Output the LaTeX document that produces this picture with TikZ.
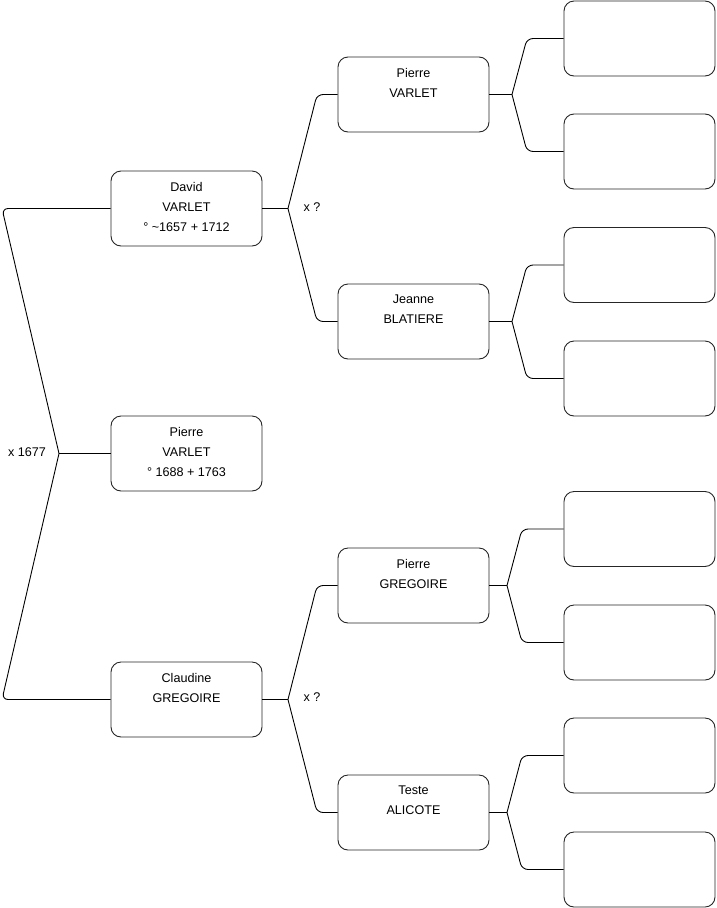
\documentclass[tikz,border=0pt]{standalone}
\usepackage{fontspec}
\setmainfont{Liberation Sans}
\newcommand\boxtxt[1]{\parbox[c][75pt][t]{151pt}{\centering\fontsize{12.6}{20}\selectfont\vspace*{11pt}#1\par}}
\tikzset{
  person/.style={draw=black!85, line width=0.9pt, rounded corners=10pt, inner sep=0pt, fill=white,
    minimum width=151pt, minimum height=75pt},
  link/.style={draw=black, line width=0.9pt},
  rlink/.style={draw=black, line width=0.9pt, rounded corners=6pt},
  note/.style={font=\fontsize{12.6}{14}\selectfont, inner sep=0pt}
}
\begin{document}
\begin{tikzpicture}[x=1pt,y=-1pt]
\useasboundingbox (0,0) rectangle (716,908);
% generation 1
\node[person] (david) at (186.5,208.5) {\boxtxt{David\\VARLET\\° \textasciitilde1657 + 1712}};
\node[person] (root) at (186.5,453.5) {\boxtxt{Pierre\\VARLET\\° 1688 + 1763}};
\node[person] (claudine) at (186.5,699.5) {\boxtxt{Claudine\\GREGOIRE}};
% generation 2
\node[person] (pierreV) at (413.5,94.5) {\boxtxt{Pierre\\VARLET}};
\node[person] (jeanne) at (413.5,321.5) {\boxtxt{Jeanne\\BLATIERE}};
\node[person] (pierreG) at (413.5,585.5) {\boxtxt{Pierre\\GREGOIRE}};
\node[person] (teste) at (413.5,812.5) {\boxtxt{Teste\\ALICOTE}};
% generation 3
\node[person] (a1) at (639.5,38.5) {};
\node[person] (a2) at (639.5,151.5) {};
\node[person] (a3) at (639.5,265) {};
\node[person] (a4) at (639.5,378.5) {};
\node[person] (a5) at (639.5,529) {};
\node[person] (a6) at (639.5,642.5) {};
\node[person] (a7) at (639.5,755.5) {};
\node[person] (a8) at (639.5,869.5) {};
% junctions
\coordinate (j0) at (59,453.5);
\coordinate (j1) at (288,208.5);
\coordinate (j2) at (288,699.5);
\coordinate (j3) at (512,94.5);
\coordinate (j4) at (512,321.5);
\coordinate (j5) at (507,585.5);
\coordinate (j6) at (507,812.5);
% connectors
\draw[link] (root.west) -- (j0);
\draw[rlink] (j0) -- (2,208.5) -- (david.west);
\draw[rlink] (j0) -- (2,699.5) -- (claudine.west);
\draw[link] (david.east) -- (j1);
\draw[rlink] (j1) -- (317,94.5) -- (pierreV.west);
\draw[rlink] (j1) -- (317,321.5) -- (jeanne.west);
\draw[link] (claudine.east) -- (j2);
\draw[rlink] (j2) -- (317,585.5) -- (pierreG.west);
\draw[rlink] (j2) -- (317,812.5) -- (teste.west);
\draw[link] (pierreV.east) -- (j3);
\draw[rlink] (j3) -- (527,38.5) -- (a1.west);
\draw[rlink] (j3) -- (527,151.5) -- (a2.west);
\draw[link] (jeanne.east) -- (j4);
\draw[rlink] (j4) -- (527,265) -- (a3.west);
\draw[rlink] (j4) -- (527,378.5) -- (a4.west);
\draw[link] (pierreG.east) -- (j5);
\draw[rlink] (j5) -- (522,529) -- (a5.west);
\draw[rlink] (j5) -- (522,642.5) -- (a6.west);
\draw[link] (teste.east) -- (j6);
\draw[rlink] (j6) -- (522,755.5) -- (a7.west);
\draw[rlink] (j6) -- (522,869.5) -- (a8.west);
% labels
\node[note] (m0) at (27,452) {x 1677};
\node[note] (m1) at (312,207) {x ?};
\node[note] (m2) at (312,697.5) {x ?};
\end{tikzpicture}
\end{document}
